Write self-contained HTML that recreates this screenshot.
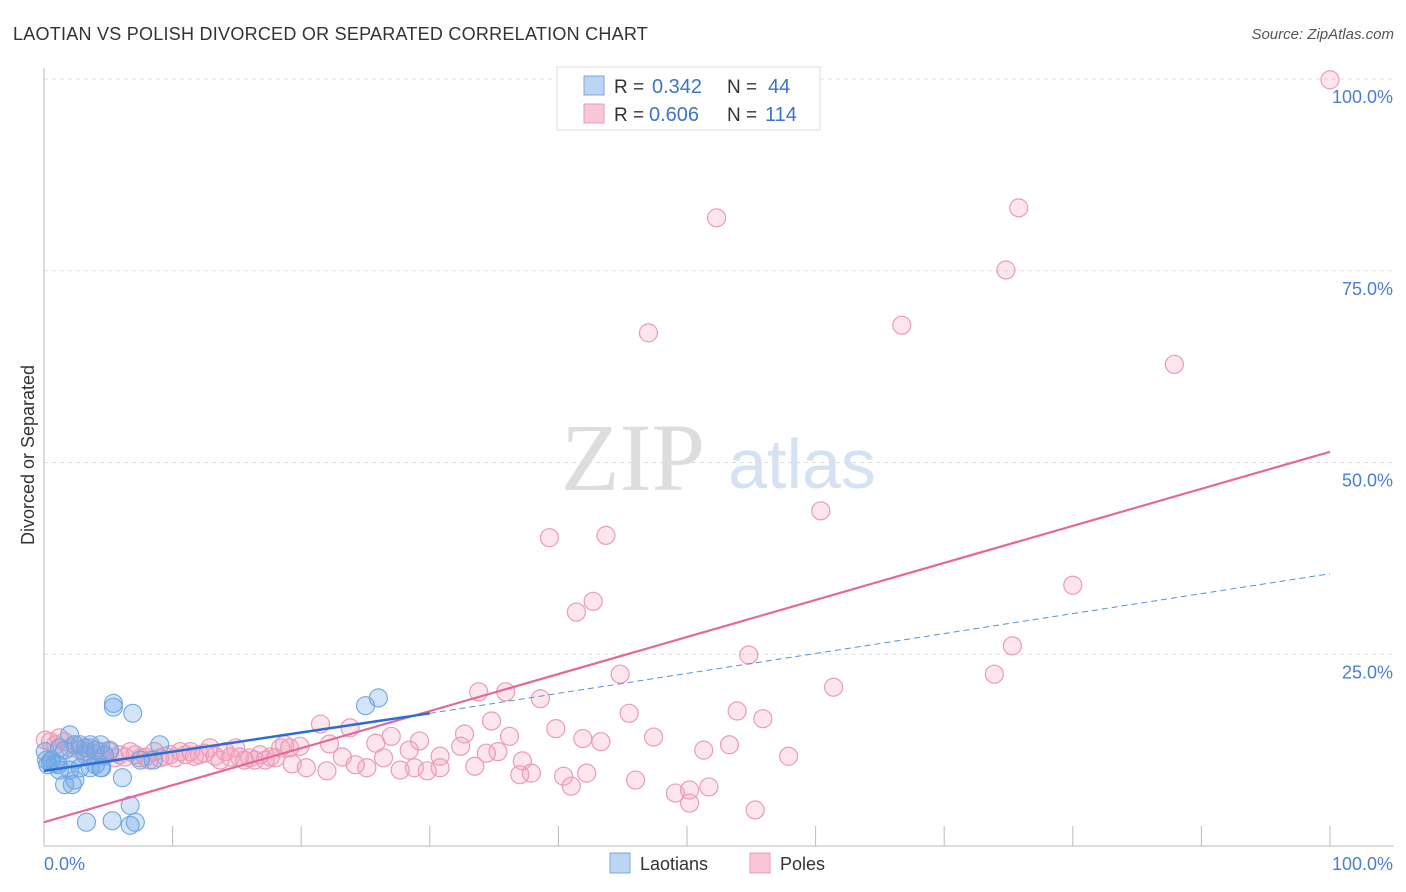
<!DOCTYPE html>
<html><head><meta charset="utf-8"><style>
body{margin:0;background:#fff;font-family:"Liberation Sans",sans-serif;}
svg{display:block}
</style></head><body>
<svg id="chart" width="1406" height="892">
<text x="13" y="40" font-size="18" fill="#333" letter-spacing="0.25">LAOTIAN VS POLISH DIVORCED OR SEPARATED CORRELATION CHART</text>
<text x="1394" y="39" font-size="15" fill="#555" font-style="italic" text-anchor="end">Source: ZipAtlas.com</text>
<text x="633" y="490" font-size="96" fill="#ddd" font-family="Liberation Serif,serif" text-anchor="middle">ZIP</text>
<text x="802" y="488" font-size="70" fill="#d4e2f4" text-anchor="middle">atlas</text>
<text transform="translate(34,455) rotate(-90)" font-size="18" fill="#333" text-anchor="middle">Divorced or Separated</text>
<g id="grid"></g><g id="pts"></g><g id="lines"></g>
<g>
<rect x="557" y="67" width="263" height="63" fill="#fff" stroke="#ddd"/>
<rect x="584" y="76" width="20" height="19" fill="#bcd5f2" stroke="#7aa8e0"/>
<rect x="584" y="104" width="20" height="19" fill="#f8c6d6" stroke="#eb9bb7"/>
<text x="614" y="93" font-size="19" fill="#333">R =</text>
<text x="652" y="93" font-size="20" fill="#3a75c8">0.342</text>
<text x="727" y="93" font-size="19" fill="#333">N =</text>
<text x="768" y="93" font-size="20" fill="#3a75c8">44</text>
<text x="614" y="121" font-size="19" fill="#333">R =</text>
<text x="649" y="121" font-size="20" fill="#3a75c8">0.606</text>
<text x="727" y="121" font-size="19" fill="#333">N =</text>
<text x="765" y="121" font-size="20" fill="#3a75c8">114</text>
</g>
<g>
<rect x="610" y="853" width="20" height="20" fill="#bcd5f2" stroke="#7aa8e0"/>
<text x="640" y="870" font-size="18" fill="#333">Laotians</text>
<rect x="750" y="853" width="20" height="20" fill="#f8c6d6" stroke="#eb9bb7"/>
<text x="780" y="870" font-size="18" fill="#333">Poles</text>
</g>
<text x="44" y="870" font-size="18" fill="#4a7fd0">0.0%</text>
<text x="1393" y="870" font-size="18" fill="#4a7fd0" text-anchor="end">100.0%</text>
</svg>
<script>
const blueX=[0.2,0.5,0.9,1.2,1.6,2.0,2.4,2.8,3.2,3.6,4.0,4.4,4.7,5.1,2.0,2.8,3.6,4.0,4.4,1.6,2.2,2.4,6.1,5.4,5.4,6.9,9.0,8.5,6.7,3.3,5.3,6.7,7.1,25.0,26.0,4.5,1.1,0.6,0.3,3.2,1.2,2.4,0.1,7.5];
const blueY=[11.2,11.0,10.8,12.8,12.5,14.5,13.2,13.2,12.8,13.2,12.5,13.2,11.9,12.5,9.9,10.2,10.2,10.6,10.2,8.0,8.0,8.6,8.9,18.6,18.1,17.3,13.2,11.2,5.3,3.1,3.3,2.7,3.1,18.3,19.3,10.2,10.6,11.2,10.6,11.9,9.9,11.2,12.3,11.2];
const pinkX=[100,52.3,75.8,74.8,47.0,66.7,87.9,60.4,39.3,43.7,80.0,41.4,42.7,75.3,54.8,73.9,44.8,61.4,33.8,35.9,38.6,53.9,45.5,55.9,21.5,34.8,23.8,39.8,32.7,27.0,47.4,41.9,36.2,43.3,53.3,51.3,57.9,32.4,25.8,29.2,22.2,19.9,35.3,34.4,30.8,28.4,26.4,23.2,37.2,33.5,28.8,30.8,25.1,24.2,19.3,20.4,22.0,27.7,29.8,37.0,37.9,40.4,42.2,41.0,46.0,49.1,50.2,50.2,51.7,55.3,
0.1,0.5,0.9,1.2,1.6,2.0,2.4,2.8,3.2,3.6,4.0,4.4,4.7,5.1,5.5,5.9,6.3,6.7,7.1,7.5,7.9,8.2,8.6,9.0,9.4,9.8,10.2,10.6,11.0,11.4,11.7,12.1,12.5,12.9,13.3,13.7,14.1,14.5,14.9,15.2,15.6,16.0,16.4,16.8,17.2,17.6,18.0,18.4,18.7,19.1];
const pinkY=[99.9,81.9,83.2,75.1,66.9,67.9,62.8,43.7,40.2,40.5,34.0,30.5,31.9,26.1,24.9,22.4,22.4,20.7,20.1,20.1,19.2,17.6,17.3,16.6,15.9,16.3,15.4,15.3,14.6,14.3,14.2,14.0,14.3,13.6,13.2,12.5,11.7,13.0,13.4,13.7,13.3,13.0,12.3,12.1,11.7,12.5,11.5,11.6,11.1,10.4,10.2,10.2,10.2,10.6,10.7,10.2,9.8,9.9,9.8,9.3,9.5,9.1,9.5,7.8,8.6,6.9,7.3,5.6,7.7,4.7,
13.8,13.6,13.2,14.1,13.6,12.8,13.2,12.5,12.3,12.8,11.9,12.3,11.7,12.3,11.5,11.9,11.6,12.3,11.9,11.5,11.6,11.2,12.3,11.5,11.7,11.9,11.5,12.3,11.9,12.3,11.7,11.9,12.1,12.8,11.7,11.2,12.3,11.6,12.8,11.6,11.2,11.5,11.2,11.9,11.2,11.6,11.5,12.8,13.2,12.8];
const blueTrend=[9.8,17.3,35.5]; // y at x=0, x=30, x=100
const pinkTrend=[3.1,51.4];
const yTicks=[25,50,75,100];
const yTickLabels=["25.0%","50.0%","75.0%","100.0%"];
const xTicks=[10,20,30,40,50,60,70,80,90,100];
const NS="http://www.w3.org/2000/svg";
const X=v=>44+v*12.86, Y=v=>846-v*7.67;
function mk(t,a,p){const e=document.createElementNS(NS,t);for(const k in a)e.setAttribute(k,a[k]);p.appendChild(e);return e;}
const grid=document.getElementById('grid');
yTicks.forEach((t,i)=>{
 const l=mk('line',{x1:44,x2:1394,y1:Y(t),y2:Y(t),stroke:'#ddd','stroke-dasharray':'4,4'},grid);
 
 
 const tx=mk('text',{x:1393,y:Y(t)+24,'font-size':18,fill:'#4a7fd0','text-anchor':'end'},grid);
 tx.textContent=yTickLabels[i];
 
 
});
const ax=mk('path',{d:'M44,68 V846 H1394',fill:'none',stroke:'#bbb'},grid);


xTicks.forEach(t=>{const l=mk('line',{x1:X(t),x2:X(t),y1:826,y2:846,stroke:'#bbb'},grid);
 
 });
const pts=document.getElementById('pts');
pinkX.forEach((x,i)=>{const c=mk('circle',{cx:X(x),cy:Y(pinkY[i]),r:9,fill:'rgba(243,160,190,0.28)',stroke:'#eb9bb7','stroke-width':1.2},pts);
 
 });
blueX.forEach((x,i)=>{const c=mk('circle',{cx:X(x),cy:Y(blueY[i]),r:9,fill:'rgba(110,165,230,0.3)',stroke:'#6fa6e4','stroke-width':1.1},pts);
 
 });
const lines=document.getElementById('lines');
let l=mk('line',{x1:X(30),y1:Y(blueTrend[1]),x2:X(100),y2:Y(blueTrend[2]),stroke:'#5b8fd8','stroke-width':1,'stroke-dasharray':'6,4'},lines);


l=mk('line',{x1:X(0),y1:Y(pinkTrend[0]),x2:X(100),y2:Y(pinkTrend[1]),stroke:'#e8679a','stroke-width':2.2},lines);


l=mk('line',{x1:X(0),y1:Y(blueTrend[0]),x2:X(30),y2:Y(blueTrend[1]),stroke:'#2a6fd6','stroke-width':2.5},lines);


</script>
</body></html>
